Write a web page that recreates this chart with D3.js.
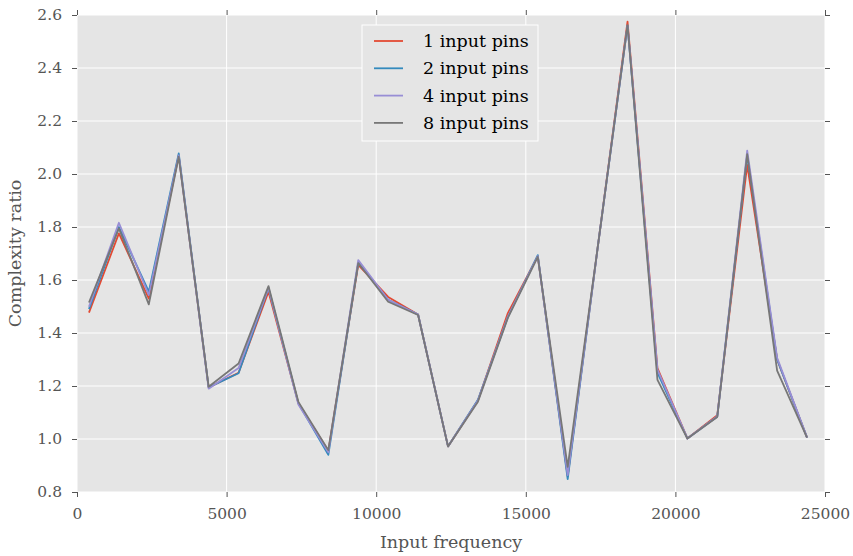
<!DOCTYPE html>
<html><head><meta charset="utf-8">
<script src="https://cdn.jsdelivr.net/npm/d3@7"></script>
<style>body{margin:0;background:#fff;} svg{display:block;} text{font-family:"DejaVu Serif",serif;}</style>
</head><body><svg id="c" width="853" height="556"></svg>
<script>
const frequencies = [400,1400,2400,3400,4400,5400,6400,7400,8400,9400,10400,11400,12400,13400,14400,15400,16400,17400,18400,19400,20400,21400,22400,23400,24400];
const pins1 = [1.477,1.776,1.53,2.07,1.195,1.25,1.556,1.135,0.955,1.657,1.536,1.47,0.972,1.145,1.475,1.69,0.86,1.72,2.575,1.268,1.002,1.09,2.034,1.30,1.005];
const pins2 = [1.49,1.80,1.556,2.078,1.195,1.248,1.57,1.135,0.94,1.665,1.525,1.47,0.972,1.148,1.46,1.694,0.849,1.72,2.56,1.25,1.002,1.085,2.07,1.30,1.005];
const pins4 = [1.499,1.816,1.543,2.07,1.19,1.268,1.57,1.13,0.95,1.675,1.525,1.47,0.972,1.145,1.462,1.69,0.864,1.72,2.56,1.262,1.002,1.085,2.088,1.306,1.005];
const pins8 = [1.515,1.795,1.508,2.065,1.197,1.285,1.577,1.14,0.958,1.664,1.518,1.468,0.972,1.141,1.457,1.687,0.895,1.72,2.562,1.223,1.002,1.083,2.075,1.258,1.005];
const seriesNames = ["1 input pins","2 input pins","4 input pins","8 input pins"];
const seriesColors = ["#E24A33","#348ABD","#988ED5","#777777"];
const xTicks = [0,5000,10000,15000,20000,25000];
const yTicks = [0.8,1.0,1.2,1.4,1.6,1.8,2.0,2.2,2.4,2.6];

const W=853,H=556,m={l:77,r:28,t:15,b:64};
const FONT='"DejaVu Serif",serif';
const svg=d3.select("#c");
const x=d3.scaleLinear().domain([0,25000]).range([m.l,W-m.r]);
const y=d3.scaleLinear().domain([0.8,2.6]).range([H-m.b,m.t]);

svg.append("rect").attr("x",m.l).attr("y",m.t).attr("width",W-m.l-m.r).attr("height",H-m.t-m.b).attr("fill","#E5E5E5");
// grid
svg.append("g").selectAll("line").data(xTicks).join("line")
  .attr("x1",d=>x(d)).attr("x2",d=>x(d)).attr("y1",m.t).attr("y2",H-m.b).attr("stroke","#fff").attr("stroke-width",1);
svg.append("g").selectAll("line").data(yTicks).join("line")
  .attr("y1",d=>y(d)).attr("y2",d=>y(d)).attr("x1",m.l).attr("x2",W-m.r).attr("stroke","#fff").attr("stroke-width",1);

function styleAxis(g){g.attr("font-family",FONT);g.select(".domain").remove();g.selectAll(".tick line").attr("stroke","#555").attr("stroke-width",1);
  g.selectAll(".tick text").attr("fill","#555").attr("font-family",FONT).style("font-size","15.5px");}
svg.append("g").attr("transform",`translate(0,${H-m.b})`).call(d3.axisBottom(x).tickValues(xTicks).tickSize(5).tickPadding(11).tickFormat(d3.format("d"))).call(styleAxis);
svg.append("g").attr("transform",`translate(0,${m.t})`).call(d3.axisTop(x).tickValues(xTicks).tickSize(5).tickFormat("")).call(styleAxis);
svg.append("g").attr("transform",`translate(${m.l},0)`).call(d3.axisLeft(y).tickValues(yTicks).tickSize(5).tickPadding(10).tickFormat(d3.format(".1f"))).call(styleAxis);
svg.append("g").attr("transform",`translate(${W-m.r},0)`).call(d3.axisRight(y).tickValues(yTicks).tickSize(5).tickFormat("")).call(styleAxis);

const all=[pins1,pins2,pins4,pins8];
const line=d3.line().x((d,i)=>x(frequencies[i])).y(d=>y(d));
svg.append("g").selectAll("path").data(all).join("path")
  .attr("d",line).attr("fill","none").attr("stroke",(d,i)=>seriesColors[i]).attr("stroke-width",1.8).attr("stroke-linejoin","round");

// labels
svg.append("text").attr("x",(m.l+W-m.r)/2).attr("y",548).attr("text-anchor","middle").attr("fill","#555").style("font-size","17.5px").text("Input frequency");
svg.append("text").attr("transform",`translate(21,${(m.t+H-m.b)/2}) rotate(-90)`).attr("text-anchor","middle").attr("fill","#555").style("font-size","17.5px").text("Complexity ratio");

// legend
const lg=svg.append("g").attr("transform","translate(362,25)");
lg.append("rect").attr("width",176).attr("height",116).attr("fill","#E5E5E5").attr("stroke","#fff").attr("stroke-width",1);
const items=lg.selectAll("g").data(seriesNames).join("g").attr("transform",(d,i)=>`translate(0,${16+i*27.3})`);
items.append("line").attr("x1",12).attr("x2",41).attr("stroke",(d,i)=>seriesColors[i]).attr("stroke-width",1.8);
items.append("text").attr("x",61).attr("y",6).attr("fill","#000").style("font-size","17.5px").text(d=>d);
</script></body></html>
